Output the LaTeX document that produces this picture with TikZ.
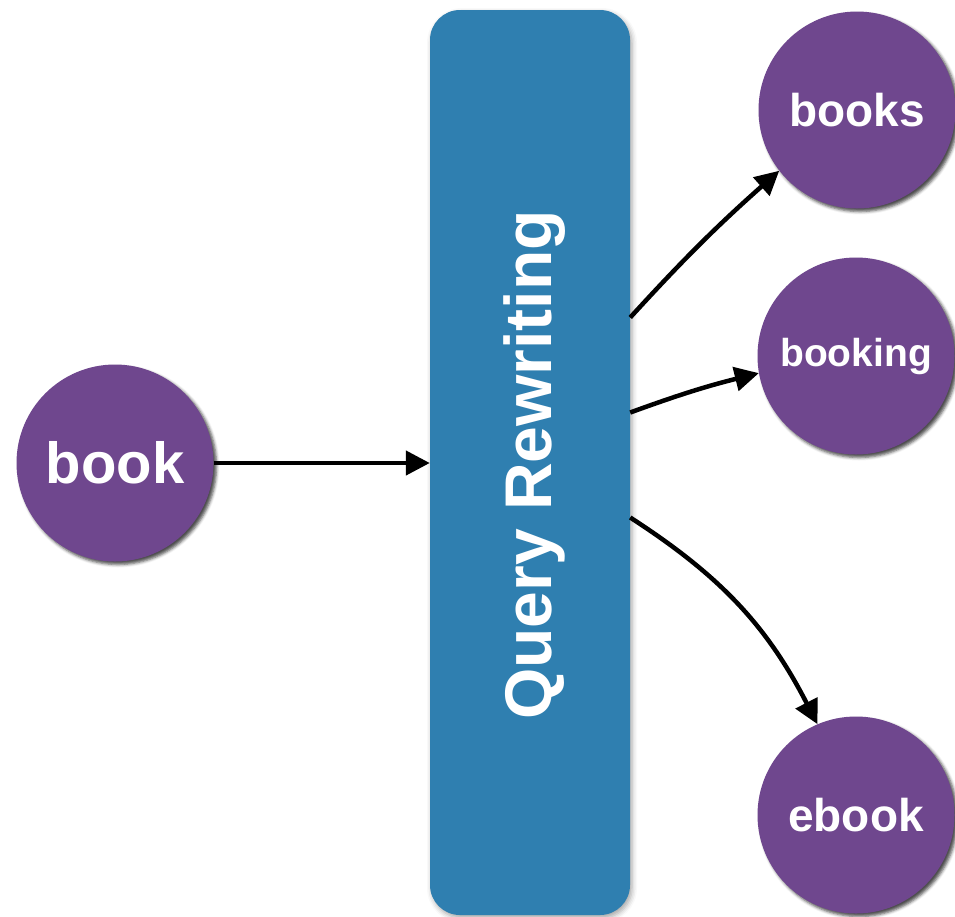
\documentclass[tikz,border=0pt]{standalone}
\usepackage{fontspec}
\setmainfont{Liberation Sans}
\usetikzlibrary{arrows.meta,shadows.blur}

\definecolor{termpurple}{RGB}{111,71,142}
\definecolor{stageblue}{RGB}{47,127,176}

\tikzset{
  term/.style={circle, fill=termpurple, minimum size=197pt, inner sep=0pt,
    text=white, font=\bfseries,
    blur shadow={shadow xshift=3pt, shadow yshift=-3pt,
      shadow blur radius=3pt, shadow opacity=70}},
  stage/.style={rectangle, rounded corners=30pt, fill=stageblue,
    minimum width=200pt, minimum height=905pt, inner sep=0pt,
    blur shadow={shadow xshift=2pt, shadow yshift=-3pt,
      shadow blur radius=5pt, shadow opacity=35}},
  flow/.style={line width=4.5pt, draw=black,
    -{Triangle[length=24pt,width=24pt]}},
}

\begin{document}
\begin{tikzpicture}[x=1pt, y=-1pt]
  \useasboundingbox (0,0) rectangle (955,916);

  % rewriting stage
  \node[stage] (rw) at (530,462.5) {};
  \node[rotate=90, text=white, font=\bfseries\fontsize{66}{70}\selectfont,
        anchor=center] (rwlabel) at (535,465) {Query Rewriting};

  % query and rewritten terms
  \node[term] (book)    at (115,463) {\fontsize{58}{60}\selectfont book};
  \node[term] (books)   at (857,110) {\fontsize{46}{50}\selectfont books};
  \node[term] (booking) at (856,356) {\fontsize{39}{42}\selectfont booking};
  \node[term] (ebook)   at (856,815) {\fontsize{46}{50}\selectfont ebook};

  % connectors
  \draw[flow] (book.east) -- (book.east -| rw.west);
  \draw[flow] ([yshift=145pt]rw.east) to[bend left=3] (books.218);
  \draw[flow] ([yshift=50pt]rw.east) to[bend left=3] (booking.190);
  \draw[flow] ([yshift=-55pt]rw.east) to[bend left=15] (ebook.113);
\end{tikzpicture}
\end{document}
